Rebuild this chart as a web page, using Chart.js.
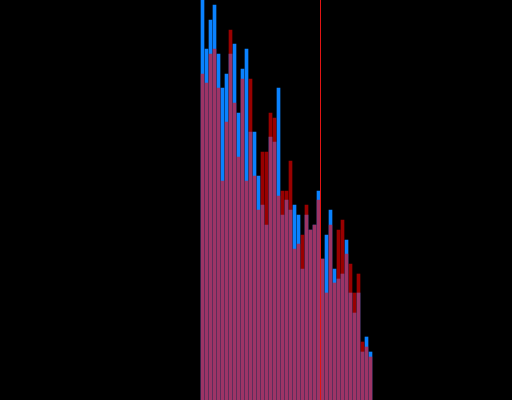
<!DOCTYPE html>
<html>
<head>
<meta charset="utf-8">
<script src="https://cdn.jsdelivr.net/npm/chart.js@4/dist/chart.umd.min.js"></script>
<style>
    html, body { margin: 0; padding: 0; background: #000; }
    #wrap { width: 512px; height: 400px; }
    canvas { background: #000; display: block; }
</style>
</head>
<body>
<div id="wrap"><canvas id="histChart" width="512" height="400"></canvas></div>
<script>
// bin index for each bar
const bins = [];
for (let i = 0; i < 43; i++) bins.push(i);

// heights of the two histograms
const blueCounts = [400, 351, 380, 395, 346, 312, 326, 346, 356, 287, 331, 351, 268, 268, 224,
    195, 175, 263, 258, 312, 185, 200, 190, 195, 185, 131, 185, 170, 175, 209,
    141, 165, 190, 131, 121, 126, 160, 107, 87, 107, 48, 63, 48];
const redCounts = [326, 317, 346, 351, 312, 219, 278, 370, 297, 243, 321, 219, 321, 224, 190,
    248, 248, 287, 282, 204, 209, 209, 239, 151, 156, 165, 195, 170, 175, 200,
    141, 107, 175, 117, 170, 180, 146, 136, 107, 126, 58, 53, 43];

// vertical marker position (in bin units)
const markerX = 29.5;

const ctx = document.getElementById('histChart').getContext('2d');
let histChart = new Chart(ctx, {
    type: 'bar',
    data: {
        datasets: [{
            type: 'line',
            data: [{ x: markerX, y: 0 }, { x: markerX, y: 400 }],
            borderColor: 'rgb(225, 20, 20)',
            borderWidth: 1,
            pointRadius: 0,
            order: 0
        }, {
            data: bins.map((b, i) => ({ x: b, y: redCounts[i] })),
            backgroundColor: 'rgba(255, 0, 0, 0.6)',
            borderWidth: 0,
            barThickness: 3,
            grouped: false,
            order: 1
        }, {
            data: bins.map((b, i) => ({ x: b, y: blueCounts[i] })),
            backgroundColor: 'rgb(10, 130, 255)',
            borderWidth: 0,
            barThickness: 3,
            grouped: false,
            order: 2
        }]
    },
    options: {
        responsive: false,
        animation: false,
        layout: { padding: 0 },
        plugins: {
            legend: { display: false },
            tooltip: { enabled: false }
        },
        scales: {
            x: {
                type: 'linear',
                min: -50.625,
                max: 77.375,
                offset: false,
                display: false
            },
            y: {
                min: 0,
                max: 400,
                display: false
            }
        }
    }
});
</script>
</body>
</html>
